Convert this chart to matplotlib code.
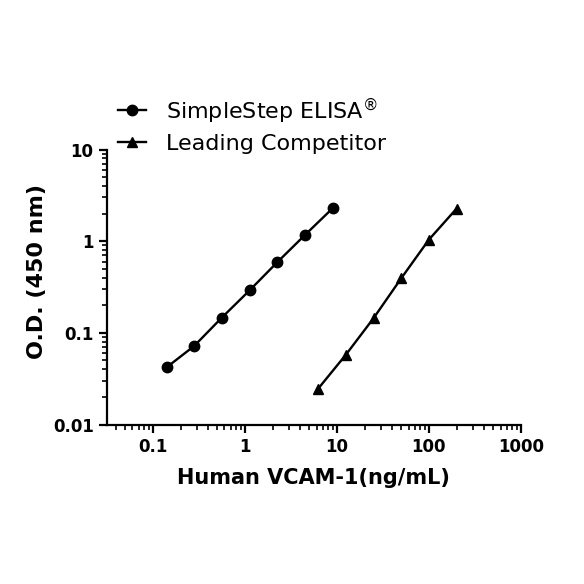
import matplotlib
matplotlib.use("Agg")
import matplotlib.pyplot as plt
from matplotlib.ticker import LogLocator, NullFormatter, FixedLocator, FixedFormatter

# standard curves (ng/mL vs O.D. at 450 nm)
simplestep_conc = [0.1406, 0.281, 0.5625, 1.125, 2.25, 4.5, 9.0]
simplestep_od = [0.042, 0.072, 0.147, 0.291, 0.59, 1.17, 2.29]
competitor_conc = [6.25, 12.5, 25, 50, 100, 200]
competitor_od = [0.0246, 0.0577, 0.1445, 0.394, 1.04, 2.27]

x_ticks = [0.1, 1, 10, 100, 1000]
x_labels = ["0.1", "1", "10", "100", "1000"]
y_ticks = [0.01, 0.1, 1, 10]
y_labels = ["0.01", "0.1", "1", "10"]

plt.rcParams['font.family'] = ['DejaVu Sans']

fig = plt.figure(figsize=(5.84, 5.84), dpi=100)
ax = fig.add_axes([0.183, 0.273, 0.709, 0.471])

ax.plot(simplestep_conc, simplestep_od, color='black', lw=1.7,
        marker='o', markersize=7.5, label='SimpleStep ELISA$^{\u00AE}$')
ax.plot(competitor_conc, competitor_od, color='black', lw=1.7,
        marker='^', markersize=7.5, label='Leading Competitor')

ax.set_xscale('log')
ax.set_yscale('log')
ax.set_xlim(0.0316, 1000)
ax.set_ylim(0.01, 10)

ax.xaxis.set_major_locator(FixedLocator(x_ticks))
ax.xaxis.set_major_formatter(FixedFormatter(x_labels))
ax.yaxis.set_major_locator(FixedLocator(y_ticks))
ax.yaxis.set_major_formatter(FixedFormatter(y_labels))
ax.xaxis.set_minor_locator(LogLocator(base=10, subs=range(2, 10), numticks=20))
ax.yaxis.set_minor_locator(LogLocator(base=10, subs=range(2, 10), numticks=20))
ax.xaxis.set_minor_formatter(NullFormatter())
ax.yaxis.set_minor_formatter(NullFormatter())

for side in ['top', 'right']:
    ax.spines[side].set_visible(False)
for side in ['left', 'bottom']:
    ax.spines[side].set_linewidth(1.6)

ax.tick_params(which='major', direction='out', length=6, width=1.6, labelsize=12)
ax.tick_params(which='minor', direction='out', length=3.5, width=1.2)
for lab in ax.get_xticklabels() + ax.get_yticklabels():
    lab.set_fontweight('bold')

ax.set_xlabel('Human VCAM-1(ng/mL)', fontsize=15, fontweight='bold', labelpad=9)
ax.set_ylabel('O.D. (450 nm)', fontsize=16, fontweight='bold')
ax.yaxis.set_label_coords(-0.145, 0.555)

ax.legend(loc='lower left', bbox_to_anchor=(0.005, 0.953), frameon=False,
          fontsize=16, handlelength=1.25, handletextpad=0.9, labelspacing=0.35,
          borderaxespad=0)

fig.savefig('out.png', dpi=100)
